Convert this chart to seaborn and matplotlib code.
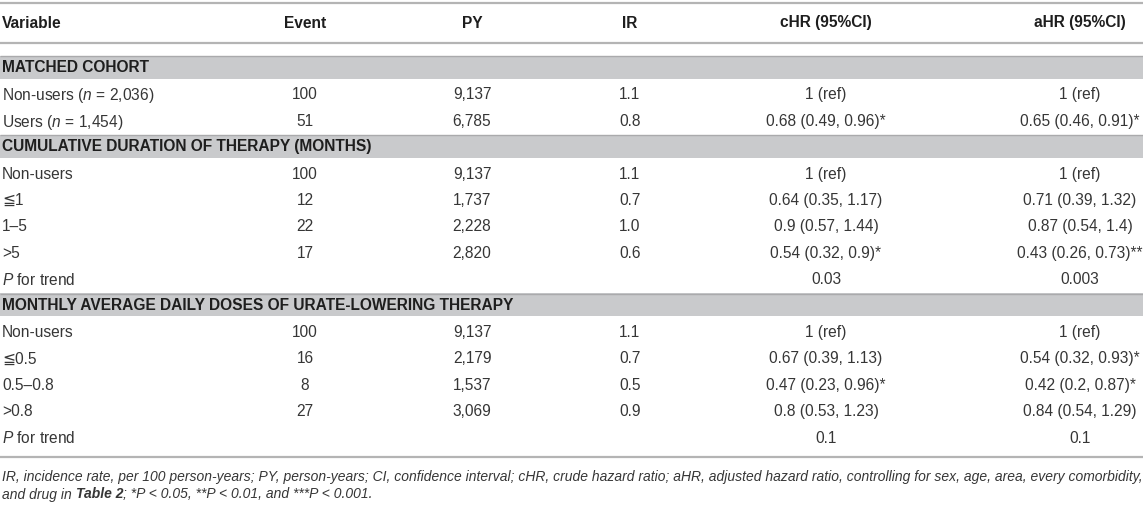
import matplotlib
matplotlib.use("Agg")
import matplotlib.pyplot as plt
import seaborn as sns

# ---------------- data ----------------
header = ["Variable", "Event", "PY", "IR", "cHR (95%CI)", "aHR (95%CI)"]
sections = ["MATCHED COHORT",
            "CUMULATIVE DURATION OF THERAPY (MONTHS)",
            "MONTHLY AVERAGE DAILY DOSES OF URATE-LOWERING THERAPY"]
section_sizes = [2, 5, 5]
variables = [r"Non-users ($\mathit{n}$ = 2,036)", r"Users ($\mathit{n}$ = 1,454)",
             "Non-users", "≦1", "1–5", ">5", r"$\mathit{P}$ for trend",
             "Non-users", "≦0.5", "0.5–0.8", ">0.8", r"$\mathit{P}$ for trend"]
events = [100, 51, 100, 12, 22, 17, None, 100, 16, 8, 27, None]
person_years = ["9,137", "6,785", "9,137", "1,737", "2,228", "2,820", "",
                "9,137", "2,179", "1,537", "3,069", ""]
incidence = [1.1, 0.8, 1.1, 0.7, 1.0, 0.6, None, 1.1, 0.7, 0.5, 0.9, None]
chr_ci = ["1 (ref)", "0.68 (0.49, 0.96)*", "1 (ref)", "0.64 (0.35, 1.17)",
          "0.9 (0.57, 1.44)", "0.54 (0.32, 0.9)*", "0.03", "1 (ref)",
          "0.67 (0.39, 1.13)", "0.47 (0.23, 0.96)*", "0.8 (0.53, 1.23)", "0.1"]
ahr_ci = ["1 (ref)", "0.65 (0.46, 0.91)*", "1 (ref)", "0.71 (0.39, 1.32)",
          "0.87 (0.54, 1.4)", "0.43 (0.26, 0.73)**", "0.003", "1 (ref)",
          "0.54 (0.32, 0.93)*", "0.42 (0.2, 0.87)*", "0.84 (0.54, 1.29)", "0.1"]
footnote1 = ("IR, incidence rate, per 100 person-years; PY, person-years; CI, confidence interval; "
             "cHR, crude hazard ratio; aHR, adjusted hazard ratio, controlling for sex, age, area, "
             "every comorbidity,")
footnote2 = [("and drug in ", "normal"), ("Table 2", "bold"), ("; *P < 0.05, **P < 0.01, and ***P < 0.001.", "normal")]

# ---------------- style ----------------
sns.set_theme(style="white")
fam = ["Liberation Sans", "DejaVu Sans"]
plt.rcParams["font.family"] = fam
plt.rcParams["mathtext.fontset"] = "custom"
plt.rcParams["mathtext.rm"] = "Liberation Sans"
plt.rcParams["mathtext.it"] = "Liberation Sans:italic"
plt.rcParams["mathtext.bf"] = "Liberation Sans:bold"

W, H = 1143, 505
fig = plt.figure(figsize=(W / 100, H / 100), dpi=100)
ax = fig.add_axes([0, 0, 1, 1])
ax.set_xlim(0, W)
ax.set_ylim(H, 0)
ax.axis("off")

body_color = "#363636"
head_color = "#1e1e1e"
line_color = "#b4b4b4"
band_color = "#c9cacc"
band_edge = "#aaaaac"
fs = 11.2

col_x = [2, 305, 472, 630, 826, 1080]
header_y = 23
first_y = 67
pitch = 26.4
band_h = 23

# rules
for y in (3, 43, 457):
    ax.hlines(y, 0, W, color=line_color, lw=1.6)

for j, h in enumerate(header):
    ax.text(col_x[j], header_y, h, ha="left" if j == 0 else "center", va="center",
            fontsize=fs, fontweight="bold", color=head_color)

row = 0
k = 0
for s, size in zip(sections, section_sizes):
    yb = first_y + row * pitch
    ax.barh(yb, W, height=band_h, left=0, color=band_color, edgecolor="none")
    ax.hlines(yb - band_h / 2 + 0.7, 0, W, color=band_edge, lw=1.0)
    ax.text(col_x[0], yb + 0.5, s, ha="left", va="center", fontsize=fs,
            fontweight="bold", color=head_color)
    row += 1
    for _ in range(size):
        y = first_y + row * pitch
        vals = [variables[k],
                "" if events[k] is None else str(events[k]),
                person_years[k],
                "" if incidence[k] is None else f"{incidence[k]:.1f}",
                chr_ci[k], ahr_ci[k]]
        for j, v in enumerate(vals):
            if v:
                ax.text(col_x[j], y, v, ha="left" if j == 0 else "center", va="center_baseline",
                        fontsize=fs, color=body_color)
        row += 1
        k += 1

# footnote
fig.canvas.draw()
r = fig.canvas.get_renderer()
probe = ax.text(2, 475, footnote1, fontsize=10, style="italic", color=body_color,
                ha="left", va="center")
wpx = probe.get_window_extent(r).width
probe.remove()
ffs = 10 * 1136 / wpx
ax.text(2, 475, footnote1, fontsize=ffs, style="italic", color=body_color,
        ha="left", va="center_baseline")
x = 2
for txt, wt in footnote2:
    t = ax.text(x, 493, txt, fontsize=ffs, style="italic", fontweight=wt, color=body_color,
                ha="left", va="center_baseline")
    x += t.get_window_extent(r).width

fig.savefig("out.png", dpi=100)
